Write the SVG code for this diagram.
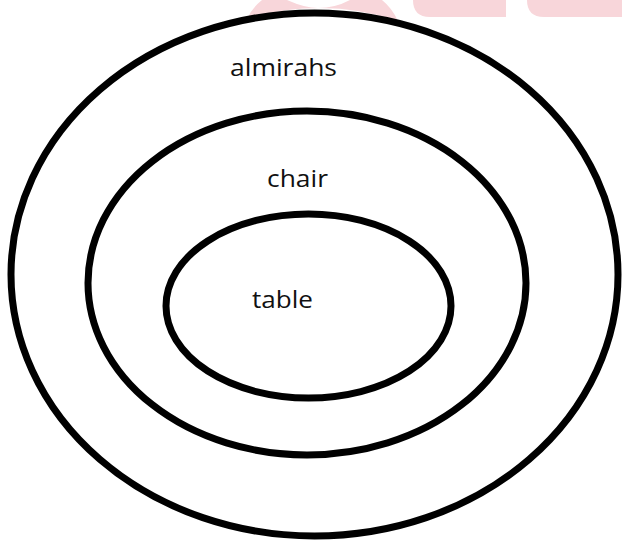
<svg xmlns="http://www.w3.org/2000/svg" width="622" height="541" viewBox="0 0 622 541">
<style>
.ring{fill:none;stroke:#000;stroke-width:7}
.lbl{font-family:"Open Sans","Liberation Sans",sans-serif;font-size:24px;fill:#111}
.wm{fill:#f8d6da}
</style>
<rect width="622" height="541" fill="#fff"/>
<g id="watermark">
<path class="wm" d="M247 19 Q252 8 262 0 L287 0 Q305 8 318 8 Q335 8 350 0 L382 0 Q392 8 398 21 Q360 8 320 8 Q280 8 247 19 Z"/>
<path class="wm" d="M413 0 L506 0 L506 17 L430 17 Q413 17 413 0 Z"/>
<path class="wm" d="M527 0 L622 0 L622 17 L544 17 Q527 17 527 0 Z"/>
</g>
<g id="almirahs">
<ellipse class="ring" cx="314.5" cy="274.5" rx="303.5" ry="261.5"/>
<text class="lbl" x="230" y="76" textLength="107" lengthAdjust="spacingAndGlyphs">almirahs</text>
</g>
<g id="chair">
<ellipse class="ring" cx="307" cy="283" rx="219" ry="172"/>
<text class="lbl" x="267" y="187" textLength="61" lengthAdjust="spacingAndGlyphs">chair</text>
</g>
<g id="table">
<ellipse class="ring" cx="308.5" cy="306" rx="142.5" ry="92"/>
<text class="lbl" x="252" y="308" textLength="61" lengthAdjust="spacingAndGlyphs">table</text>
</g>
<g id="connectors"/>
</svg>
